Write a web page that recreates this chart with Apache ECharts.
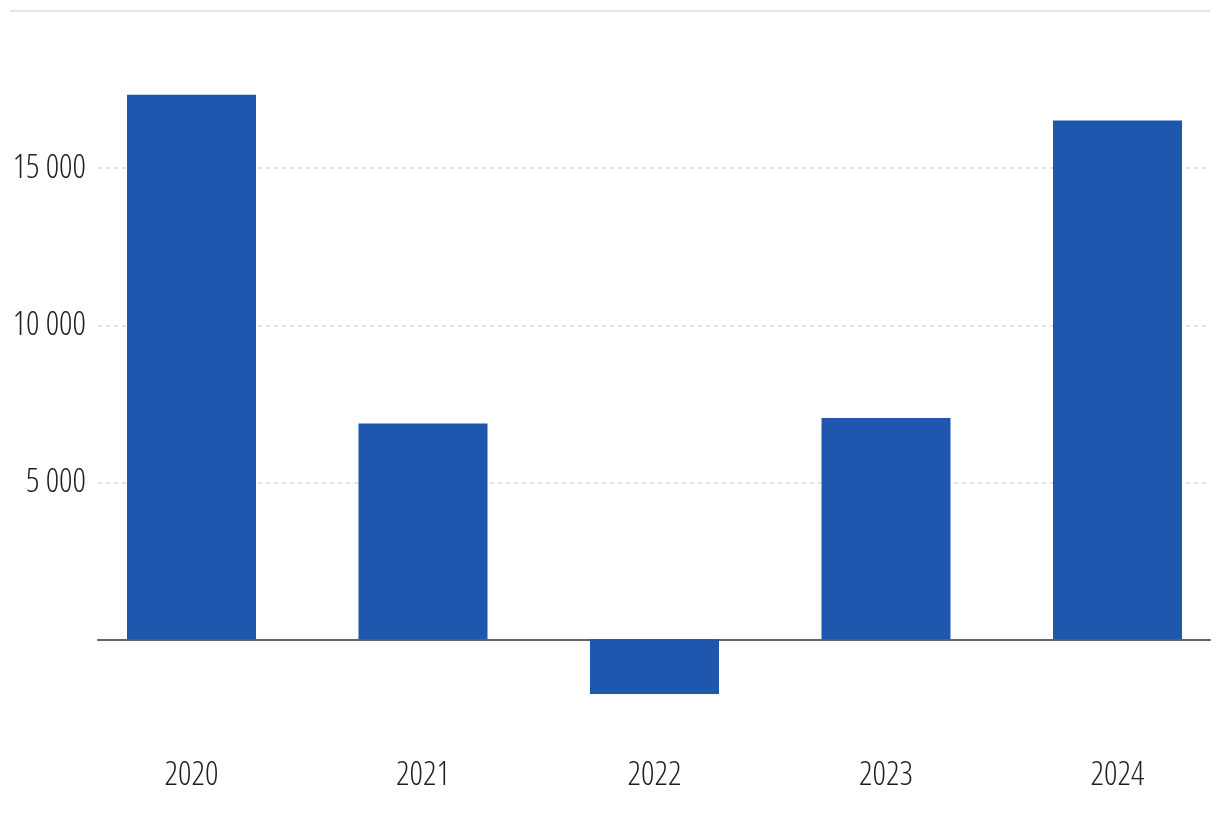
<!DOCTYPE html>
<html><head><meta charset="utf-8">
<script src="https://cdn.jsdelivr.net/npm/echarts@6/dist/echarts.min.js"></script>
<style>html,body{margin:0;padding:0;background:#fff}#c{width:1220px;height:816px}</style>
</head><body><div id="c"></div>
<script>
const categories = ['2020', '2021', '2022', '2023', '2024'];
const values = [17335, 6870, -1750, 7040, 16510];
const yTicks = [0, 5000, 10000, 15000, 20000];

const FONT = '"Open Sans", Roboto, sans-serif';
const WEIGHT = '300 condensed';
const fmt = v => String(v).replace(/\B(?=(\d{3})+(?!\d))/g, ' ');

const chart = echarts.init(document.getElementById('c'), null, {renderer: 'canvas'});
chart.setOption({
  animation: false,
  backgroundColor: '#ffffff',
  graphic: [{
    type: 'line', shape: {x1: 10, y1: 11, x2: 1210, y2: 11},
    style: {stroke: '#e6e6e6', lineWidth: 2}
  }],
  grid: [
    {left: 98, right: 10, top: 11, bottom: 816 - 639.5, outerBoundsMode: 'none', containLabel: false},
    {left: 75.75, right: -13.25, top: 11, bottom: 816 - 639 - 157.2, outerBoundsMode: 'none', containLabel: false}
  ],
  xAxis: [
    {gridIndex: 0, type: 'category', data: categories, show: true,
     axisLine: {show: true, lineStyle: {color: '#666666', width: 2}},
     axisTick: {show: false}, axisLabel: {show: false}, splitLine: {show: false}},
    {gridIndex: 1, type: 'category', data: categories, position: 'bottom',
     axisLine: {show: false, onZero: false}, axisTick: {show: false},
     axisLabel: {show: true, margin: -37, verticalAlign: 'top',
       fontFamily: FONT, fontWeight: WEIGHT, fontSize: 33, color: '#1e1e1e'}}
  ],
  yAxis: [
    {gridIndex: 0, type: 'value', min: yTicks[0], max: yTicks[yTicks.length - 1], interval: 5000,
     axisLine: {show: false}, axisTick: {show: false},
     axisLabel: {margin: 12, fontFamily: FONT, fontWeight: WEIGHT, fontSize: 33, color: '#1e1e1e',
       showMinLabel: false, showMaxLabel: false, formatter: v => fmt(v)},
     splitLine: {show: true, showMinLine: false, showMaxLine: false,
       lineStyle: {color: '#e2e2e2', type: [4, 4], width: 2}}},
    {gridIndex: 1, type: 'value', min: -5000, max: 20000, interval: 5000, show: false,
     splitLine: {show: false}}
  ],
  series: [{
    type: 'bar', xAxisIndex: 1, yAxisIndex: 1, data: values,
    barWidth: 129, itemStyle: {color: '#1f56ae'}, z: 1
  }]
});
</script></body></html>
